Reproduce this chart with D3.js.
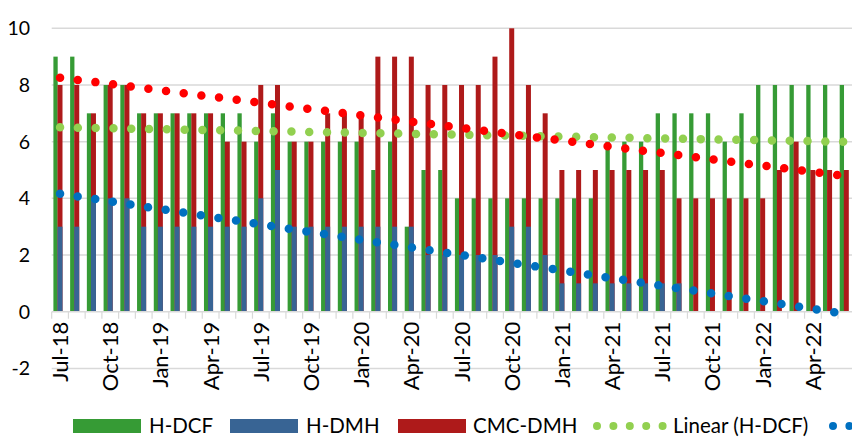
<!DOCTYPE html>
<meta charset="utf-8">
<style>
body { margin: 0; background: #fff; }
svg { display: block; font-family: Lato, "Open Sans", sans-serif; }
.grid line { stroke: #d9d9d9; stroke-width: 1.5px; }
.axis text { fill: #000; }
</style>
<body>
<svg width="852" height="437"></svg>
<script src="https://cdn.jsdelivr.net/npm/d3@7"></script>
<script>

// months on the x axis
var months = ["Jul-18","Aug-18","Sep-18","Oct-18","Nov-18","Dec-18","Jan-19","Feb-19","Mar-19","Apr-19","May-19","Jun-19",
  "Jul-19","Aug-19","Sep-19","Oct-19","Nov-19","Dec-19","Jan-20","Feb-20","Mar-20","Apr-20","May-20","Jun-20",
  "Jul-20","Aug-20","Sep-20","Oct-20","Nov-20","Dec-20","Jan-21","Feb-21","Mar-21","Apr-21","May-21","Jun-21",
  "Jul-21","Aug-21","Sep-21","Oct-21","Nov-21","Dec-21","Jan-22","Feb-22","Mar-22","Apr-22","May-22","Jun-22"];

// series values
var hDCF = [9,9,7,8,8,7,7,7,7,7,7,7, 6,7,6,6,6,6,6,5,6,3,5,5, 4,4,4,4,4,4,4,4,4,6,6,6, 7,7,7,7,6,7,8,8,8,8,8,8];
var hDMH = [3,3,4,4,4,3,3,3,3,3,3,3, 4,5,3,3,3,3,3,3,3,3,2,2, 2,2,2,3,3,2,1,1,1,1,1,1, 1,1,0,0,0,0,0,0,0,0,0,0];
var cmcDMH = [8,8,7,8,8,7,7,7,7,7,6,6, 8,8,6,6,7,7,7,9,9,9,8,8, 8,8,9,10,8,7,5,5,5,5,5,5, 5,4,4,4,4,4,4,5,6,5,5,5];

var yTicks = [-2, 0, 2, 4, 6, 8, 10];
var tickLabelEvery = 3;

var svg = d3.select("svg");

// plot area (runs slightly past the right edge, as in the original)
var plotLeft = 51.7, band = 16.73, plotTop = 28.3, zeroY = 311.7;

var x = d3.scaleBand().domain(months).range([plotLeft, plotLeft + band * months.length]).padding(0);
var y = d3.scaleLinear().domain([0, 10]).range([zeroY, plotTop]);

// gridlines
svg.append("g").attr("class", "grid")
  .selectAll("line").data(yTicks.filter(function(d) { return d !== 0; }))
  .enter().append("line")
    .attr("x1", plotLeft).attr("x2", 852)
    .attr("y1", function(d) { return y(d); })
    .attr("y2", function(d) { return y(d); });

// y labels
svg.append("g").attr("class", "axis")
  .selectAll("text").data(yTicks)
  .enter().append("text")
    .attr("x", 30)
    .attr("y", function(d) { return y(d); })
    .attr("dy", "0.36em")
    .attr("text-anchor", "end")
    .style("font-size", "19.5px")
    .text(function(d) { return d; });

// bars
var bw = x.bandwidth();
svg.append("g").selectAll("rect").data(months)
  .enter().append("rect")
    .attr("x", function(d) { return x(d) + 1.7; })
    .attr("width", 4.3)
    .attr("y", function(d, i) { return y(hDCF[i]); })
    .attr("height", function(d, i) { return zeroY - y(hDCF[i]); })
    .attr("fill", "#369b35");

svg.append("g").selectAll("rect").data(months)
  .enter().append("rect")
    .attr("x", function(d) { return x(d) + 5.8; })
    .attr("width", 5)
    .attr("y", function(d, i) { return y(cmcDMH[i]); })
    .attr("height", function(d, i) { return zeroY - y(cmcDMH[i]); })
    .attr("fill", "#ae1a1a");

svg.append("g").selectAll("rect").data(months)
  .enter().append("rect")
    .attr("x", function(d) { return x(d) + 5.8; })
    .attr("width", 5)
    .attr("y", function(d, i) { return y(hDMH[i]); })
    .attr("height", function(d, i) { return zeroY - y(hDMH[i]); })
    .attr("fill", "#386494");

// x axis line and ticks
var xAxis = svg.append("g").attr("class", "axis");
xAxis.append("line")
  .attr("x1", plotLeft).attr("x2", 852)
  .attr("y1", zeroY).attr("y2", zeroY)
  .attr("stroke", "#d9d9d9").attr("stroke-width", 1.5);
xAxis.selectAll(".tick").data(months)
  .enter().append("line")
    .attr("class", "tick")
    .attr("x1", function(d) { return x(d); })
    .attr("x2", function(d) { return x(d); })
    .attr("y1", zeroY).attr("y2", zeroY + 7)
    .attr("stroke", "#d9d9d9").attr("stroke-width", 1.2);

xAxis.selectAll("text").data(months.filter(function(d, i) { return i % tickLabelEvery === 0; }))
  .enter().append("text")
    .attr("transform", function(d) {
      return "translate(" + (x(d) + bw / 2) + "," + (zeroY + 10) + ") rotate(-90)";
    })
    .attr("dy", "0.36em")
    .attr("text-anchor", "end")
    .style("font-size", "22px")
    .text(function(d) { return d; });

// linear trendlines, like Excel's
function trend(vals) {
  var n = vals.length, mx = (n - 1) / 2, my = d3.mean(vals), sxy = 0, sxx = 0;
  vals.forEach(function(v, i) { sxy += (i - mx) * (v - my); sxx += (i - mx) * (i - mx); });
  var b = sxy / sxx, a = my - b * mx;
  return [[0, a], [n - 1, a + b * (n - 1)]];
}

var trendLine = d3.line()
  .x(function(d) { return x(months[d[0]]) + bw / 2; })
  .y(function(d) { return y(d[1]); });

[[hDCF, "#92d050"], [hDMH, "#0070c0"], [cmcDMH, "#ff0000"]].forEach(function(s) {
  svg.append("path")
    .attr("d", trendLine(trend(s[0])))
    .attr("fill", "none")
    .attr("stroke", s[1])
    .attr("stroke-width", 8.5)
    .attr("stroke-linecap", "round")
    .attr("stroke-dasharray", "0 17.8");
});

// legend
var legend = svg.append("g").style("font-size", "20.5px");
var swatches = [["H-DCF", "#369b35", 73, 149], ["H-DMH", "#386494", 230, 306], ["CMC-DMH", "#ae1a1a", 398, 473]];
swatches.forEach(function(s) {
  legend.append("rect").attr("x", s[2]).attr("y", 419).attr("width", 68).attr("height", 14).attr("fill", s[1]);
  legend.append("text").attr("x", s[3]).attr("y", 426).attr("dy", "0.36em").text(s[0]);
});
legend.append("line")
  .attr("x1", 597).attr("x2", 663).attr("y1", 426).attr("y2", 426)
  .attr("stroke", "#92d050").attr("stroke-width", 8).attr("stroke-linecap", "round")
  .attr("stroke-dasharray", "0 16.4");
legend.append("text").attr("x", 673).attr("y", 426).attr("dy", "0.36em").text("Linear (H-DCF)");
legend.append("line")
  .attr("x1", 833).attr("x2", 900).attr("y1", 426).attr("y2", 426)
  .attr("stroke", "#0070c0").attr("stroke-width", 8).attr("stroke-linecap", "round")
  .attr("stroke-dasharray", "0 16.4");

</script>
</body>
